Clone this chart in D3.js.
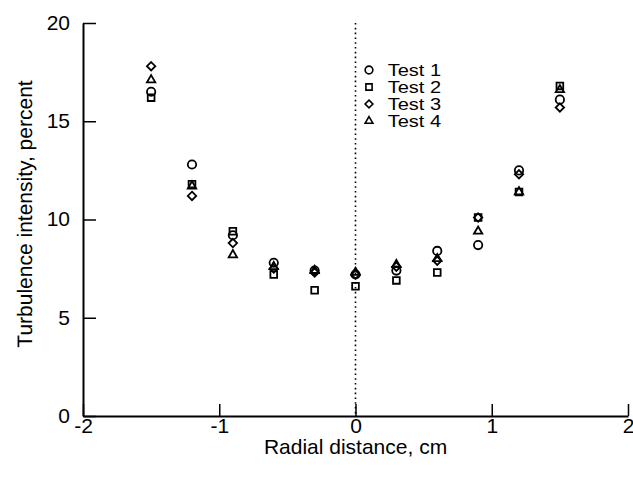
<!DOCTYPE html>
<meta charset="utf-8">
<style>
    body { margin: 0; background: #fff; }
    text { font-family: "Liberation Sans", Arial, sans-serif; fill: #000; }
</style>
<svg id="canvas" width="633" height="479"></svg>
<script src="https://d3js.org/d3.v7.min.js"></script>
<script>

    var radial = [-1.5, -1.2, -0.9, -0.6, -0.3, 0, 0.3, 0.6, 0.9, 1.2, 1.5];
    var test1 = [16.5, 12.8, 9.2, 7.8, 7.4, 7.2, 7.4, 8.4, 8.7, 12.5, 16.1];
    var test2 = [16.2, 11.8, 9.4, 7.2, 6.4, 6.6, 6.9, 7.3, 10.1, 11.4, 16.8];
    var test3 = [17.8, 11.2, 8.8, 7.5, 7.3, 7.2, 7.6, 7.9, 10.1, 12.3, 15.7];
    var test4 = [17.1, 11.7, 8.2, 7.6, 7.4, 7.3, 7.7, 8.0, 9.4, 11.4, 16.6];
    var seriesNames = ["Test 1", "Test 2", "Test 3", "Test 4"];
    var xTicks = [-2, -1, 0, 1, 2];
    var yTicks = [0, 5, 10, 15, 20];

    var svg = d3.select("svg");
    var mLeft = 83, mRight = 628, mTop = 23, mBottom = 416;

    var x = d3.scaleLinear().domain([-2, 2]).range([mLeft, mRight]);
    var y = d3.scaleLinear().domain([0, 20]).range([mBottom, mTop]);

    // dotted center line
    svg.append("line")
       .attr("x1", x(0)).attr("x2", x(0))
       .attr("y1", y(20)).attr("y2", y(0))
       .attr("stroke", "#000").attr("stroke-width", 1.6)
       .attr("stroke-dasharray", "1.6,3.2");

    // axes, ticks pointing inward
    var xAxis = svg.append("g").attr("transform", "translate(0," + mBottom + ")")
                   .call(d3.axisBottom(x).tickValues(xTicks).tickSize(-12).tickSizeOuter(0)
                   .tickFormat(function(d) { return String(d); }));
    var yAxis = svg.append("g").attr("transform", "translate(" + mLeft + ",0)")
                   .call(d3.axisLeft(y).tickValues(yTicks).tickSize(-13).tickSizeOuter(0)
                   .tickFormat(function(d) { return String(d); }));

    [xAxis, yAxis].forEach(function(a) {
      a.select(".domain").attr("stroke", "#000").attr("stroke-width", 2);
      a.selectAll(".tick line").attr("stroke", "#000").attr("stroke-width", 1.5);
      a.selectAll(".tick text").style("font-size", "21px")
       .style("font-family", "Liberation Sans, Arial, sans-serif").attr("fill", "#000");
    });
    xAxis.selectAll(".tick text").attr("y", 2).attr("dy", "0.72em");
    yAxis.selectAll(".tick text").attr("x", -13).attr("dy", "0.3em");

    svg.append("text").attr("x", x(0)).attr("y", 454)
       .attr("text-anchor", "middle").style("font-size", "21px")
       .text("Radial distance, cm");
    svg.append("text")
       .attr("transform", "translate(32,214) rotate(-90)")
       .attr("text-anchor", "middle").style("font-size", "21px")
       .style("text-rendering", "geometricPrecision")
       .text("Turbulence intensity, percent");

    var shapes = [d3.symbolCircle, d3.symbolSquare, d3.symbolDiamond2, d3.symbolTriangle2];
    var sizes = [55, 45, 45, 50];
    var all = [test1, test2, test3, test4];

    all.forEach(function(vals, k) {
      var sym = d3.symbol().type(shapes[k]).size(sizes[k]);
      svg.append("g").selectAll("path")
         .data(vals)
         .enter().append("path")
         .attr("d", sym)
         .attr("transform", function(d, i) { return "translate(" + x(radial[i]) + "," + y(d) + ")"; })
         .attr("fill", "none").attr("stroke", "#000").attr("stroke-width", 1.8);
    });

    // legend
    var leg = svg.append("g").attr("transform", "translate(369,70)");
    seriesNames.forEach(function(name, k) {
      var row = leg.append("g").attr("transform", "translate(0," + (k * 17) + ")");
      row.append("path").attr("d", d3.symbol().type(shapes[k]).size(sizes[k] * 0.85))
         .attr("fill", "none").attr("stroke", "#000").attr("stroke-width", 1.6);
      row.append("text").attr("x", 15).attr("y", 6).style("font-size", "16px")
         .attr("transform", "scale(1.25,1)").text(name);
    });

</script>
